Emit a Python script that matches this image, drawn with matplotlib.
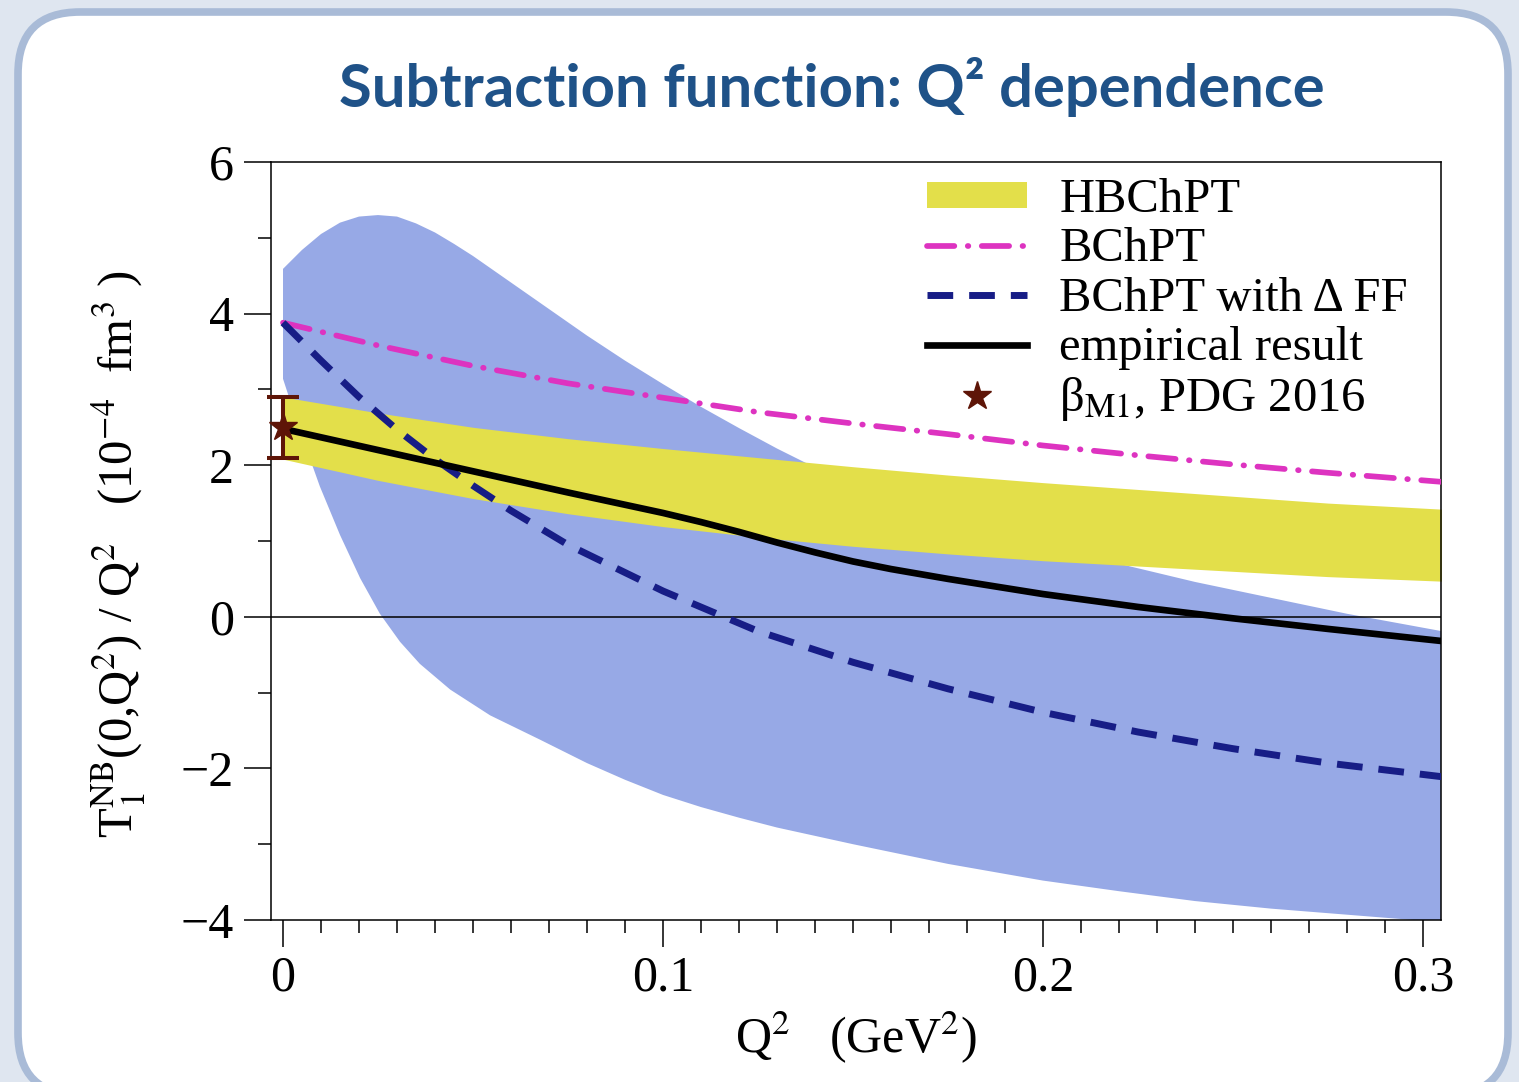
import matplotlib
matplotlib.use("Agg")
import matplotlib.pyplot as plt
from matplotlib.patches import FancyBboxPatch, Patch
from matplotlib.lines import Line2D
from matplotlib.ticker import MultipleLocator, FixedLocator

plt.rcParams["font.family"] = ["Liberation Serif", "DejaVu Serif"]
plt.rcParams["mathtext.fontset"] = "stix"

# Q^2 in GeV^2, T1 / Q^2 in units of 1e-4 fm^3
# BChPT with Delta form factor: error band edges
q2_ff_hi = [0.0, 0.005, 0.01, 0.015, 0.02, 0.025, 0.03, 0.035, 0.04, 0.045, 0.05,
            0.06, 0.07, 0.08, 0.09, 0.10, 0.11, 0.12, 0.13, 0.14, 0.15, 0.175,
            0.20, 0.22, 0.24, 0.26, 0.28, 0.305]
bchpt_ff_hi = [4.59, 4.84, 5.05, 5.20, 5.28, 5.30, 5.28, 5.19, 5.07, 4.92, 4.76,
               4.41, 4.06, 3.71, 3.38, 3.07, 2.77, 2.49, 2.22, 1.97, 1.74, 1.30,
               0.95, 0.70, 0.46, 0.25, 0.04, -0.19]
q2_ff_lo = [0.0, 0.0045, 0.0097, 0.015, 0.0203, 0.0255, 0.0308, 0.036, 0.044, 0.0545,
            0.0676, 0.08, 0.09, 0.10, 0.11, 0.12, 0.13, 0.14, 0.15, 0.175, 0.20,
            0.22, 0.24, 0.26, 0.28, 0.305]
bchpt_ff_lo = [3.14, 2.45, 1.72, 1.08, 0.51, 0.04, -0.33, -0.62, -0.96, -1.30,
               -1.62, -1.93, -2.15, -2.35, -2.51, -2.65, -2.78, -2.89, -3.00, -3.26, -3.48,
               -3.62, -3.75, -3.85, -3.93, -4.03]

q2_hb = [0.0, 0.025, 0.05, 0.075, 0.10, 0.125, 0.15, 0.175, 0.20, 0.225, 0.25, 0.275, 0.305]
hbchpt_hi = [2.90, 2.69, 2.50, 2.35, 2.22, 2.10, 1.98, 1.87, 1.77, 1.68, 1.59, 1.50, 1.42]
hbchpt_lo = [2.08, 1.80, 1.56, 1.36, 1.19, 1.05, 0.93, 0.83, 0.74, 0.67, 0.60, 0.53, 0.47]

q2_bchpt = [0.0, 0.025, 0.05, 0.075, 0.10, 0.125, 0.15, 0.175, 0.20, 0.225, 0.25, 0.275, 0.305]
bchpt = [3.88, 3.58, 3.31, 3.08, 2.89, 2.70, 2.55, 2.41, 2.26, 2.13, 2.01, 1.90, 1.78]

q2_ff = [0.0, 0.01, 0.02, 0.03, 0.04, 0.05, 0.06, 0.075, 0.10, 0.125, 0.15, 0.175,
         0.20, 0.225, 0.25, 0.275, 0.305]
bchpt_ff = [3.88, 3.38, 2.90, 2.47, 2.08, 1.73, 1.40, 0.95, 0.34, -0.19, -0.60, -0.95,
            -1.26, -1.52, -1.74, -1.93, -2.11]

q2_emp = [0.0, 0.025, 0.05, 0.075, 0.10, 0.11, 0.12, 0.13, 0.14, 0.15, 0.16, 0.175,
          0.20, 0.225, 0.25, 0.275, 0.305]
empirical = [2.48, 2.20, 1.92, 1.64, 1.37, 1.25, 1.12, 0.98, 0.85, 0.73, 0.63, 0.50,
             0.30, 0.13, -0.02, -0.16, -0.32]

beta_m1 = 2.5
beta_m1_err = 0.4

x_ticks = [0, 0.1, 0.2, 0.3]
x_ticklabels = ["0", "0.1", "0.2", "0.3"]
y_ticks = [-4, -2, 0, 2, 4, 6]
y_ticklabels = ["\u22124", "\u22122", "0", "2", "4", "6"]

yellow = "#e3df4a"
blue = "#97a9e6"
magenta = "#dd33c0"
navy = "#171d86"
star_col = "#5e1507"

fig = plt.figure(figsize=(15.19, 10.82), dpi=100)
fig.patch.set_facecolor("#dfe6f0")

# white slide card with rounded corners, behind everything else
card = FancyBboxPatch((0.18, -0.13), 14.9, 10.83,
                      boxstyle="round,pad=0,rounding_size=0.62",
                      transform=fig.dpi_scale_trans,
                      facecolor="white", edgecolor="#a9bbd7", linewidth=5.5,
                      zorder=-10)
fig.add_artist(card)

fig.text(0.5474, 1 - 87 / 1082, "Subtraction function: Q² dependence",
         ha="center", va="center", fontsize=43, fontweight="bold",
         color="#1f5288", family=["Lato", "DejaVu Sans"])

ax = fig.add_axes([271 / 1519, 1 - 920 / 1082, 1170 / 1519, 758 / 1082])
ax.set_facecolor("white")

# blue band: upper edge left to right, then lower edge back
ax.fill(q2_ff_hi + q2_ff_lo[::-1], bchpt_ff_hi + bchpt_ff_lo[::-1],
        color=blue, lw=0, zorder=1)
ax.fill_between(q2_hb, hbchpt_lo, hbchpt_hi, color=yellow, lw=0, zorder=2)
ax.axhline(0, color="black", lw=1.1, zorder=3)

l_bchpt, = ax.plot(q2_bchpt, bchpt, color=magenta, lw=4.1,
                   dash_capstyle="round", zorder=4)
l_bchpt.set_dashes((4.8, 2.36, 0.1, 2.36))
l_ff, = ax.plot(q2_ff, bchpt_ff, color=navy, lw=5, zorder=5)
l_ff.set_dashes((3.7, 2.3))
ax.plot(q2_emp, empirical, color="black", lw=4.8, zorder=6)

ax.errorbar([0.0], [beta_m1], yerr=[beta_m1_err], fmt="*", color=star_col,
            markersize=21, elinewidth=2.9, capsize=11.5, capthick=2.9,
            zorder=7, clip_on=False)

ax.set_xlim(-12 / 3800, 0.3 + 18 / 3800)
ax.set_ylim(-4, 6)

ax.xaxis.set_major_locator(FixedLocator(x_ticks))
ax.xaxis.set_minor_locator(MultipleLocator(0.01))
ax.set_xticklabels(x_ticklabels)
ax.set_yticks(y_ticks)
ax.set_yticklabels(y_ticklabels)
ax.yaxis.set_minor_locator(MultipleLocator(1))

ax.tick_params(which="both", direction="out", width=1.1, labelsize=36,
               top=False, right=False)
ax.tick_params(which="major", length=19.5)
ax.tick_params(which="minor", length=9.5)
ax.tick_params(axis="x", which="major", pad=6)
ax.tick_params(axis="y", which="major", pad=7)
for sp in ax.spines.values():
    sp.set_linewidth(1.1)

ax.set_xlabel(r"Q$^2$   (GeV$^2$)", fontsize=36, labelpad=6)
ax.set_ylabel(r"T$_1^{\mathrm{NB}}$(0,Q$^2$) / Q$^2$   (10$^{\mathrm{-4}}$  fm$^3$ )",
              fontsize=35)
ax.yaxis.set_label_coords(-0.105, 0.483)

handles = [
    Patch(facecolor=yellow, edgecolor="none"),
    Line2D([], [], color=magenta, lw=4.1, dashes=(4.8, 2.36, 0.1, 2.36),
           dash_capstyle="round"),
    Line2D([], [], color=navy, lw=5, dashes=(3.7, 2.3)),
    Line2D([], [], color="black", lw=4.8),
    Line2D([], [], color=star_col, marker="*", markersize=21, lw=0),
]
labels = ["HBChPT", "BChPT", "BChPT with Δ FF", "empirical result",
          r"β$_{\mathrm{M1}}$, PDG 2016"]
ax.legend(handles, labels, loc="upper left", bbox_to_anchor=(0.5607, 0.979),
          frameon=False, fontsize=35, handlelength=2.06, handleheight=0.45,
          handletextpad=0.66, labelspacing=0.11, borderpad=0, borderaxespad=0)

fig.savefig("out.png", dpi=100, facecolor=fig.get_facecolor())
